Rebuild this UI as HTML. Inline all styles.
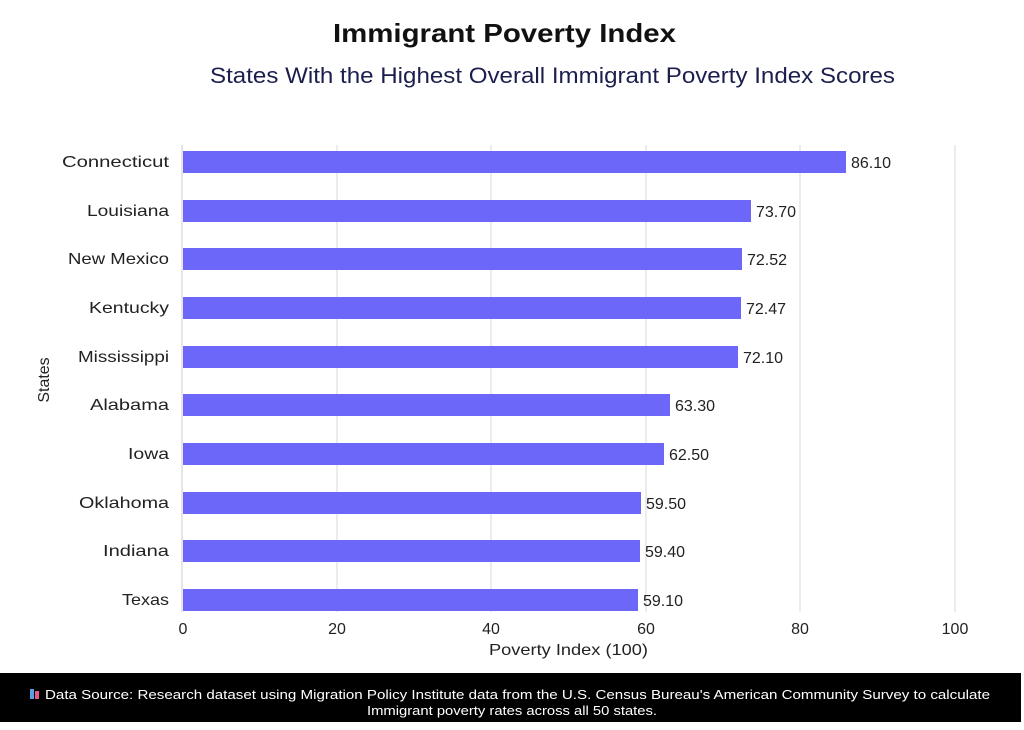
<!DOCTYPE html>
<html><head><meta charset="utf-8"><style>
body{margin:0;background:#fff;width:1024px;height:725px;overflow:hidden;font-family:"Liberation Sans",sans-serif}
</style></head><body>
<svg width="1024" height="725" xmlns="http://www.w3.org/2000/svg" font-family="Liberation Sans, sans-serif">
<text x="333" y="42" font-size="26" font-weight="bold" fill="#111" textLength="343" lengthAdjust="spacingAndGlyphs">Immigrant Poverty Index</text>
<text x="210" y="83" font-size="22" fill="#1c1f4d" textLength="685" lengthAdjust="spacingAndGlyphs">States With the Highest Overall Immigrant Poverty Index Scores</text>
<g stroke="#e6e6e6" stroke-width="1.5">
<line x1="337" y1="145" x2="337" y2="612"/><line x1="491" y1="145" x2="491" y2="612"/><line x1="646" y1="145" x2="646" y2="612"/><line x1="800" y1="145" x2="800" y2="612"/><line x1="955" y1="145" x2="955" y2="612"/>
</g>
<line x1="182" y1="145" x2="182" y2="612" stroke="#ddd" stroke-width="1.5"/>
<g font-size="16" fill="#222">
<g>
<text x="62" y="167" textLength="107" lengthAdjust="spacingAndGlyphs">Connecticut</text>
<text x="87" y="216" textLength="82" lengthAdjust="spacingAndGlyphs">Louisiana</text>
<text x="68" y="264" textLength="101" lengthAdjust="spacingAndGlyphs">New Mexico</text>
<text x="89" y="313" textLength="80" lengthAdjust="spacingAndGlyphs">Kentucky</text>
<text x="78" y="362" textLength="91" lengthAdjust="spacingAndGlyphs">Mississippi</text>
<text x="90" y="410" textLength="79" lengthAdjust="spacingAndGlyphs">Alabama</text>
<text x="128" y="459" textLength="41" lengthAdjust="spacingAndGlyphs">Iowa</text>
<text x="79" y="508" textLength="90" lengthAdjust="spacingAndGlyphs">Oklahoma</text>
<text x="103" y="556" textLength="66" lengthAdjust="spacingAndGlyphs">Indiana</text>
<text x="122" y="605" textLength="47" lengthAdjust="spacingAndGlyphs">Texas</text>
</g>
<g fill="#6c67f8">
<rect x="183" y="151" width="663" height="22"/><rect x="183" y="200" width="568" height="22"/><rect x="183" y="248" width="559" height="22"/><rect x="183" y="297" width="558" height="22"/><rect x="183" y="346" width="555" height="22"/><rect x="183" y="394" width="487" height="22"/><rect x="183" y="443" width="481" height="22"/><rect x="183" y="492" width="458" height="22"/><rect x="183" y="540" width="457" height="22"/><rect x="183" y="589" width="455" height="22"/>
</g>
<text x="851" y="168">86.10</text><text x="756" y="217">73.70</text><text x="747" y="265">72.52</text><text x="746" y="314">72.47</text><text x="743" y="363">72.10</text><text x="675" y="411">63.30</text><text x="669" y="460">62.50</text><text x="646" y="509">59.50</text><text x="645" y="557">59.40</text><text x="643" y="606">59.10</text>
<g text-anchor="middle" font-size="16">
<text x="183" y="634">0</text><text x="337" y="634">20</text><text x="491" y="634">40</text><text x="646" y="634">60</text><text x="800" y="634">80</text><text x="955" y="634">100</text>
</g>
<text x="489" y="655" textLength="159" lengthAdjust="spacingAndGlyphs">Poverty Index (100)</text>
<text transform="translate(49,380) rotate(-90)" text-anchor="middle">States</text>
</g>
<rect x="0" y="673" width="1021" height="49" fill="#000"/>
<rect x="30" y="689" width="4" height="10" fill="#5aa0e0"/><rect x="35" y="691" width="4" height="8" fill="#e05a8a"/>
<text x="45" y="699" font-size="12.5" fill="#fff" textLength="945" lengthAdjust="spacingAndGlyphs">Data Source: Research dataset  using Migration Policy Institute data from the U.S. Census Bureau's American Community Survey to calculate</text>
<text x="367" y="715" font-size="12.5" fill="#fff" textLength="290" lengthAdjust="spacingAndGlyphs">Immigrant poverty rates across all 50 states.</text>
</svg>
</body></html>
